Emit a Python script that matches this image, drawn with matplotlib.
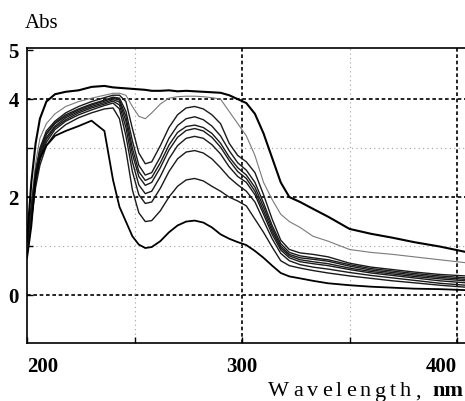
"""UV absorbance spectra, redrawn from a scanned figure."""

import matplotlib
matplotlib.use("Agg")
import matplotlib.pyplot as plt

# wavelength grid (nm) shared by all spectra
wl = [200, 202, 204, 206, 209, 213, 218, 224, 230, 236, 240, 243, 246, 249,
      252, 255, 258, 262, 266, 270, 274, 278, 282, 286, 290, 294, 298, 302,
      306, 310, 314, 318, 322, 327, 333, 340, 350, 360, 370, 380, 392, 404]

# absorbance
top = [1.1, 2.3, 3.1, 3.6, 3.95, 4.1, 4.15, 4.18, 4.25, 4.27, 4.24, 4.23, 4.22, 4.21,
       4.2, 4.19, 4.17, 4.17, 4.18, 4.16, 4.17, 4.16, 4.15, 4.14, 4.13, 4.08, 4.0, 3.92,
       3.7, 3.3, 2.8, 2.3, 2.0, 1.9, 1.76, 1.6, 1.35, 1.25, 1.17, 1.08, 0.99, 0.88]
gray = [1.0, 1.9, 2.7, 3.2, 3.5, 3.7, 3.85, 3.95, 4.02, 4.08, 4.12, 4.12, 4.08, 3.85,
        3.65, 3.6, 3.72, 3.9, 4.02, 4.05, 4.06, 4.06, 4.05, 4.03, 4.0, 3.75, 3.5, 3.25,
        2.85, 2.3, 1.95, 1.65, 1.5, 1.38, 1.2, 1.1, 0.93, 0.87, 0.83, 0.78, 0.72, 0.66]
d1 = [1.0, 1.8, 2.55, 3.0, 3.35, 3.55, 3.72, 3.85, 3.95, 4.03, 4.08, 4.08, 3.95, 3.4,
      2.9, 2.68, 2.72, 3.05, 3.42, 3.68, 3.82, 3.85, 3.8, 3.68, 3.5, 3.1, 2.85, 2.72,
      2.5, 2.05, 1.55, 1.12, 0.93, 0.86, 0.83, 0.78, 0.65, 0.57, 0.52, 0.47, 0.42, 0.39]
d2 = [0.95, 1.75, 2.5, 2.95, 3.3, 3.52, 3.68, 3.8, 3.9, 3.98, 4.04, 4.02, 3.75, 3.15,
      2.65, 2.45, 2.5, 2.82, 3.2, 3.46, 3.6, 3.64, 3.58, 3.45, 3.25, 2.95, 2.7, 2.55,
      2.3, 1.88, 1.42, 1.05, 0.87, 0.8, 0.76, 0.72, 0.62, 0.54, 0.49, 0.44, 0.39, 0.35]
d3 = [0.9, 1.7, 2.45, 2.9, 3.28, 3.5, 3.65, 3.78, 3.88, 3.96, 4.02, 3.98, 3.65, 3.0,
      2.52, 2.34, 2.4, 2.7, 3.06, 3.32, 3.44, 3.47, 3.42, 3.3, 3.1, 2.82, 2.6, 2.45,
      2.2, 1.8, 1.36, 1.0, 0.83, 0.76, 0.73, 0.69, 0.59, 0.51, 0.46, 0.41, 0.36, 0.32]
d4 = [0.88, 1.65, 2.4, 2.85, 3.22, 3.45, 3.62, 3.75, 3.85, 3.93, 3.99, 3.94, 3.55, 2.88,
      2.42, 2.24, 2.3, 2.6, 2.96, 3.22, 3.36, 3.4, 3.35, 3.22, 3.02, 2.75, 2.52, 2.38,
      2.12, 1.72, 1.3, 0.96, 0.8, 0.72, 0.68, 0.64, 0.55, 0.48, 0.43, 0.38, 0.33, 0.29]
d5 = [0.85, 1.6, 2.35, 2.8, 3.18, 3.42, 3.58, 3.72, 3.82, 3.9, 3.96, 3.88, 3.42, 2.72,
      2.25, 2.07, 2.12, 2.42, 2.78, 3.05, 3.2, 3.24, 3.2, 3.07, 2.88, 2.62, 2.42, 2.3,
      2.05, 1.65, 1.24, 0.92, 0.76, 0.68, 0.64, 0.6, 0.52, 0.45, 0.4, 0.35, 0.29, 0.25]
d6 = [0.82, 1.55, 2.3, 2.75, 3.12, 3.38, 3.55, 3.68, 3.78, 3.87, 3.92, 3.8, 3.25, 2.52,
      2.05, 1.87, 1.9, 2.18, 2.52, 2.78, 2.92, 2.95, 2.9, 2.78, 2.6, 2.4, 2.25, 2.12,
      1.9, 1.52, 1.15, 0.85, 0.7, 0.62, 0.57, 0.53, 0.46, 0.4, 0.35, 0.3, 0.24, 0.2]
d7 = [0.8, 1.5, 2.2, 2.65, 3.05, 3.3, 3.48, 3.62, 3.72, 3.8, 3.82, 3.6, 2.95, 2.15,
      1.68, 1.5, 1.52, 1.72, 2.0, 2.22, 2.35, 2.38, 2.33, 2.22, 2.12, 2.0, 1.92, 1.82,
      1.55, 1.28, 0.98, 0.7, 0.6, 0.55, 0.5, 0.45, 0.39, 0.34, 0.29, 0.25, 0.2, 0.16]
bottom = [0.75, 1.4, 2.4, 2.8, 3.05, 3.25, 3.35, 3.45, 3.56, 3.35, 2.35, 1.8, 1.5, 1.2,
          1.03, 0.96, 0.98, 1.1, 1.28, 1.42, 1.5, 1.52, 1.48, 1.38, 1.24, 1.15, 1.08, 1.02,
          0.9, 0.76, 0.6, 0.45, 0.38, 0.34, 0.29, 0.24, 0.2, 0.17, 0.15, 0.13, 0.12, 0.1]

serif = ["Liberation Serif", "DejaVu Serif"]

fig = plt.figure(figsize=(4.65, 4.01), dpi=100)
ax = fig.add_axes([0.0581, 0.1446, 0.9419, 0.7364])

# grid: dashed major lines, sparse dotted minor lines
for y in [0, 2, 4]:
    ax.axhline(y, color="black", lw=1.2, ls=(0, (2.2, 1.6)), zorder=1)
for x in [300, 400]:
    ax.axvline(x, color="black", lw=1.2, ls=(0, (2.2, 1.6)), zorder=1)
for y in [1, 3]:
    ax.axhline(y, color="#a0a0a0", lw=0.8, ls=(0, (1, 3)), zorder=1)
for x in [250, 350]:
    ax.axvline(x, color="#a0a0a0", lw=0.8, ls=(0, (1, 3)), zorder=1)

ax.plot(wl, gray, color="#7a7a7a", lw=0.8, zorder=3)
for s in [d1, d2, d3, d4, d5, d6, d7]:
    ax.plot(wl, s, color="#1a1a1a", lw=1.0, zorder=3)
ax.plot(wl, bottom, color="black", lw=1.3, zorder=3)
ax.plot(wl, top, color="black", lw=1.5, zorder=3)

ax.set_xlim(200, 403.7)
ax.set_ylim(-0.98, 5.05)
ax.spines["right"].set_visible(False)
for side in ["left", "bottom", "top"]:
    ax.spines[side].set_linewidth(1.2)

ax.set_xticks([200, 300, 400])
ax.set_xticks([250, 350], minor=True)
ax.set_yticks([0, 2, 4, 5])
ax.set_yticks([1, 3], minor=True)
ax.tick_params(which="both", direction="in", length=4, width=1)
ax.tick_params(axis="x", pad=10)
ax.tick_params(axis="y", pad=6)
ax.set_xticklabels(["200", "300", "400"], family=serif, size=15, weight="bold")
ax.set_yticklabels(["0", "2", "4", "5"], family=serif, size=15, weight="bold")
xl = ax.get_xticklabels()
xl[0].set_horizontalalignment("left")
xl[-1].set_horizontalalignment("right")

fig.text(25 / 465, 1 - 28.5 / 401, "Abs", family=serif, size=15)

# x label is letter-spaced in the original, so place it char by char
renderer = fig.canvas.get_renderer()
x = 268 / 465
yb = 1 - 396.5 / 401
for ch in "Wavelength,":
    t = fig.text(x, yb, ch, family=serif, size=16, va="baseline")
    w = t.get_window_extent(renderer).width
    x += (w + 4.0) / fig.bbox.width
fig.text(463 / 465, yb, "nm", family=serif, size=16, weight="bold",
         va="baseline", ha="right")

fig.savefig("out.png", dpi=100)
